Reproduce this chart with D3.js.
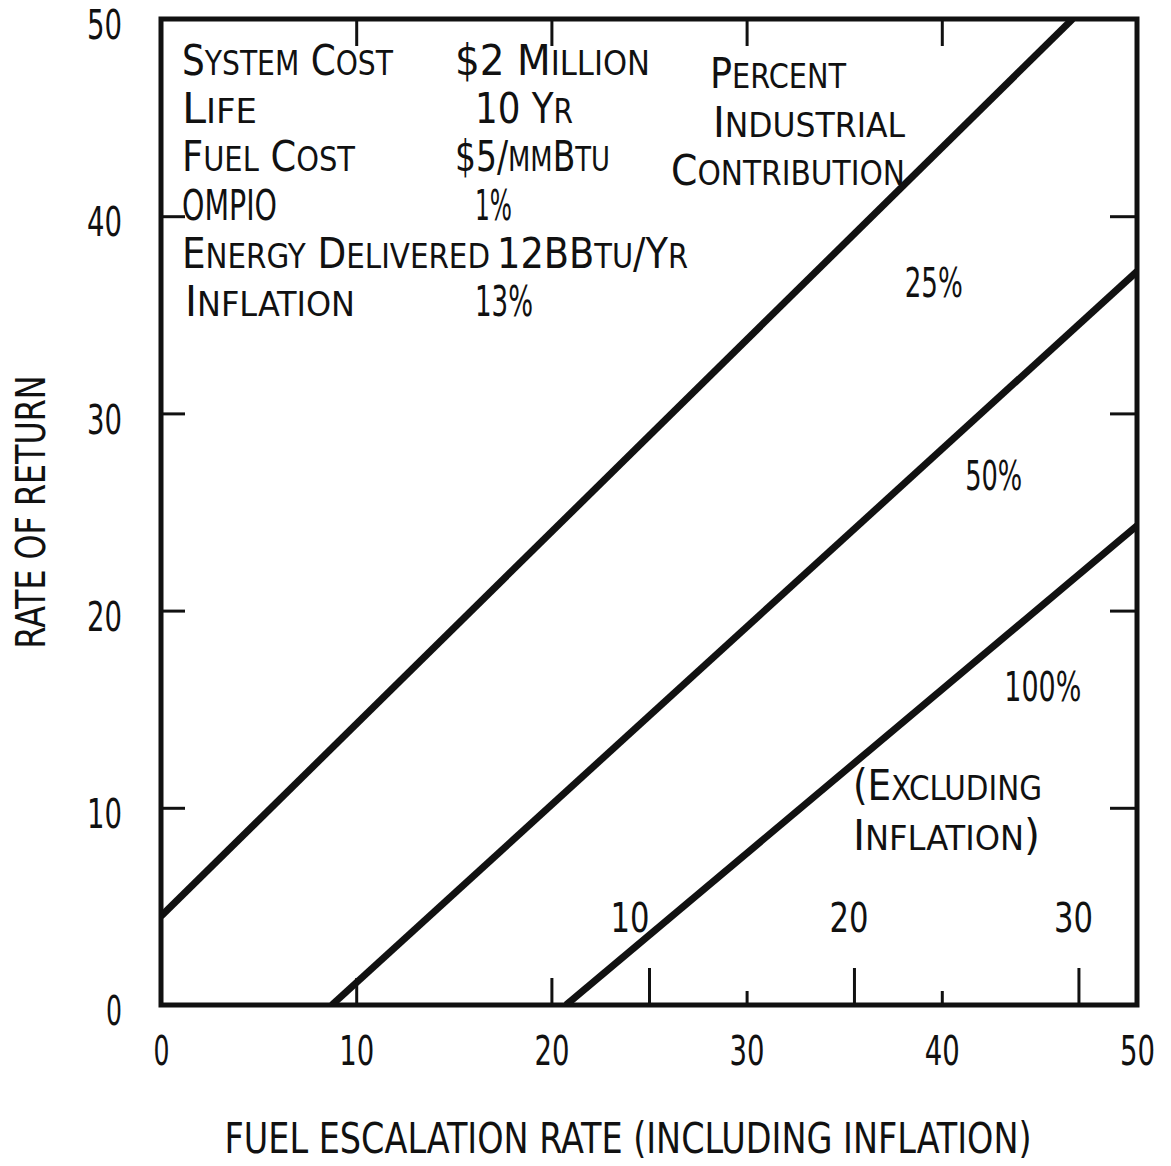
<!DOCTYPE html>
<html>
<head>
<meta charset="utf-8">
<script src="https://cdn.jsdelivr.net/npm/d3@7"></script>
<style>
  html, body { margin: 0; padding: 0; background: #fff; }
  svg { display: block; }
  text { font-family: "DejaVu Sans Condensed", "DejaVu Sans", sans-serif; fill: #111; }
</style>
</head>
<body>
<svg id="chart" width="1171" height="1166"></svg>
<script>
// Axis ticks (percent)
const xTicks = [0, 10, 20, 30, 40, 50];
const yTicks = [0, 10, 20, 30, 40, 50];
const frameTicks = [10, 20, 30, 40];

// Escalation rate excluding inflation, marked along the bottom edge
const exclLabels = [10, 20, 30];
const exclAt = [25.0, 35.5, 47.0];

// Rate of return lines, one per percent industrial contribution
const contribution = ["25%", "50%", "100%"];
const escStart = [0, 8.75, 20.75];
const rorStart = [4.5, 0, 0];
const escEnd = [46.7, 50, 50];
const rorEnd = [50, 37.2, 24.3];

// Assumptions block (lowercase letters are drawn as small capitals)
const paramNames = ["System Cost", "Life", "Fuel Cost", "OMPIO", "Energy Delivered", "Inflation"];
const paramValues = ["$2 Million", "10 Yr", "$5/mmBtu", "1%", "12BBtu/Yr", "13%"];

const svg = d3.select("#chart");
const M = { left: 161, right: 1137, top: 19, bottom: 1005 };

const x = d3.scaleLinear().domain([0, 50]).range([M.left, M.right]);
const y = d3.scaleLinear().domain([0, 50]).range([M.bottom, M.top]);

const INK = "#111";

// small-caps writer: uppercase/digits/symbols big, lowercase -> small uppercase
function smallCaps(t, str, big, small) {
  const runs = [];
  for (const ch of str) {
    const isSmall = ch >= "a" && ch <= "z";
    const last = runs[runs.length - 1];
    if (last && last.small === isSmall) last.s += ch;
    else runs.push({ small: isSmall, s: ch });
  }
  runs.forEach(r => t.append("tspan")
    .attr("font-size", r.small ? small : big)
    .text(r.small ? r.s.toUpperCase() : r.s));
  return t;
}
function scText(g, str, px, py, width, big = 42, small = 33) {
  const t = g.append("text").attr("x", px).attr("y", py)
    .attr("textLength", width).attr("lengthAdjust", "spacingAndGlyphs")
    .style("white-space", "pre");
  return smallCaps(t, str, big, small);
}
function digitWidth(s) { const n = String(s).length; return 16 * n + 3 * (n - 1); }

// clip for the lines
svg.append("defs").append("clipPath").attr("id", "plot")
  .append("rect").attr("x", M.left).attr("y", M.top)
  .attr("width", M.right - M.left).attr("height", M.bottom - M.top);

// Lines
const line = d3.line().x(d => x(d[0])).y(d => y(d[1]));
svg.append("g").attr("clip-path", "url(#plot)")
  .selectAll("path").data(contribution).join("path")
  .attr("d", (d, i) => line([[escStart[i], rorStart[i]], [escEnd[i], rorEnd[i]]]))
  .attr("fill", "none").attr("stroke", INK).attr("stroke-width", 7);

// Left axis
const gl = svg.append("g").attr("transform", `translate(${M.left},0)`)
  .call(d3.axisLeft(y).tickValues(yTicks).tickSize(-24).tickPadding(39));
gl.select(".domain").remove();
gl.selectAll(".tick line").attr("stroke", INK).attr("stroke-width", 3)
  .filter(d => d === 0 || d === 50).remove();
gl.selectAll(".tick text").attr("font-size", 41).attr("fill", INK)
  .attr("font-family", '"DejaVu Sans Condensed","DejaVu Sans",sans-serif')
  .attr("textLength", d => digitWidth(d)).attr("lengthAdjust", "spacingAndGlyphs")
  .attr("dy", "0.48em");

// Right axis (ticks only)
const gr = svg.append("g").attr("transform", `translate(${M.right},0)`)
  .call(d3.axisRight(y).tickValues(frameTicks).tickSize(-27).tickFormat(""));
gr.select(".domain").remove();
gr.selectAll(".tick line").attr("stroke", INK).attr("stroke-width", 3);

// Top axis (ticks only)
const gt = svg.append("g").attr("transform", `translate(0,${M.top})`)
  .call(d3.axisTop(x).tickValues(frameTicks).tickSize(-27).tickFormat(""));
gt.select(".domain").remove();
gt.selectAll(".tick line").attr("stroke", INK).attr("stroke-width", 3);

// Bottom axis
const gb = svg.append("g").attr("transform", `translate(0,${M.bottom})`)
  .call(d3.axisBottom(x).tickValues(xTicks).tickSize(-27).tickPadding(30));
gb.select(".domain").remove();
gb.selectAll(".tick line").attr("stroke", INK).attr("stroke-width", 3)
  .attr("y2", d => d > 25 ? -14 : -27)
  .filter(d => d === 0 || d === 50).remove();
gb.selectAll(".tick text").attr("font-size", 41).attr("fill", INK)
  .attr("font-family", '"DejaVu Sans Condensed","DejaVu Sans",sans-serif')
  .attr("textLength", d => digitWidth(d)).attr("lengthAdjust", "spacingAndGlyphs")
  .attr("dy", "0.74em");

// Excluding-inflation scale along the bottom edge
const ge = svg.append("g").attr("transform", `translate(0,${M.bottom})`)
  .call(d3.axisBottom(x).tickValues(exclAt).tickSize(-37).tickFormat(""));
ge.select(".domain").remove();
ge.selectAll(".tick line").attr("stroke", INK).attr("stroke-width", 3);
svg.append("g").selectAll("text").data(exclLabels).join("text")
  .attr("x", (d, i) => x(exclAt[i]) + (i === 0 ? -19 : -5))
  .attr("y", 932)
  .attr("text-anchor", "middle")
  .attr("font-size", 40)
  .attr("textLength", d => digitWidth(d) + 4).attr("lengthAdjust", "spacingAndGlyphs")
  .text(d => d);

// Frame
svg.append("rect")
  .attr("x", M.left).attr("y", M.top)
  .attr("width", M.right - M.left).attr("height", M.bottom - M.top)
  .attr("fill", "none").attr("stroke", INK).attr("stroke-width", 5);

// Axis titles
svg.append("text")
  .attr("transform", "translate(45,512) rotate(-90)")
  .attr("text-anchor", "middle").attr("font-size", 41)
  .attr("textLength", 273).attr("lengthAdjust", "spacingAndGlyphs")
  .text("RATE OF RETURN");
svg.append("text")
  .attr("x", 628).attr("y", 1153)
  .attr("text-anchor", "middle").attr("font-size", 43)
  .attr("textLength", 807).attr("lengthAdjust", "spacingAndGlyphs")
  .text("FUEL ESCALATION RATE (INCLUDING INFLATION)");

// Assumptions block
const notes = svg.append("g");
const nameW = [211, 75, 173, 95, 308, 170];
const nameX = [182, 182, 182, 182, 182, 185];
const valX = [455, 475, 455, 475, 497, 475];
const valW = [195, 98, 155, 37, 191, 58];
paramNames.forEach((n, i) => {
  const by = 75 + i * 48.2;
  scText(notes, n, nameX[i], by, nameW[i]);
  scText(notes, paramValues[i], valX[i], by, valW[i]);
});

// Legend heading
scText(notes, "Percent", 710, 88, 136);
scText(notes, "Industrial", 713, 137, 192);
scText(notes, "Contribution", 671, 185, 234);

// Line labels
const lblX = [38.1, 41.2, 43.2];
const lblY = [35.9, 26.1, 15.4];
const lblW = [58, 57, 77];
svg.append("g").selectAll("text").data(contribution).join("text")
  .attr("x", (d, i) => x(lblX[i])).attr("y", (d, i) => y(lblY[i]))
  .attr("font-size", 40)
  .attr("textLength", (d, i) => lblW[i]).attr("lengthAdjust", "spacingAndGlyphs")
  .text(d => d);

scText(notes, "(Excluding", 853, 800, 189);
scText(notes, "Inflation)", 853, 850, 187);
</script>
</body>
</html>
